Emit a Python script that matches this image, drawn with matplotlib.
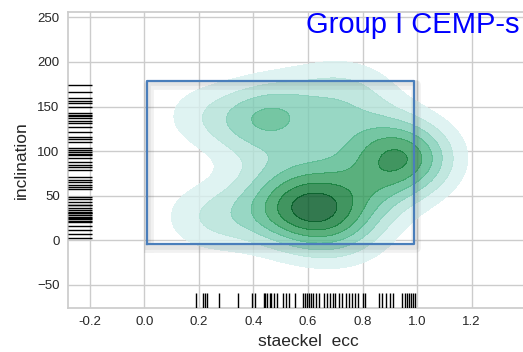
import numpy as np
import matplotlib
matplotlib.use("Agg")
import matplotlib.pyplot as plt
import matplotlib.patheffects as pe
from matplotlib import ticker, colors as mcolors

# Orbital eccentricity and inclination of the Group I CEMP-s stars
ecc = [0.19, 0.215, 0.222, 0.23, 0.275, 0.345, 0.393, 0.405,
       0.437, 0.443, 0.45, 0.46, 0.465, 0.475, 0.485,
       0.51, 0.52, 0.53, 0.553,
       0.582, 0.59, 0.598, 0.605, 0.612, 0.62, 0.63, 0.64,
       0.657, 0.668, 0.68, 0.69, 0.70, 0.712, 0.725, 0.738, 0.75, 0.76,
       0.772, 0.785, 0.80, 0.81,
       0.86, 0.872, 0.885, 0.90, 0.913,
       0.945, 0.955, 0.962, 0.97, 0.978, 0.985, 0.993]
incl = [139, 24, 30, 143, 21, 127, 36, 131,
        88, 141, 28, 134, 137, 149, 46,
        22, 154, 71, 32,
        39, 26, 65, 16, 43, 31, 62, 110.5,
        12, 174.5, 40, 116, 7.5, 159, 58, 34, 3, 166.6,
        25, 103, 49, 156.5,
        113, 68, 79, 60, 121,
        101, 92, 97, 82, 99, 95.5, 84]

# Selection box in (ecc, inclination)
box_ecc = [0.01, 0.99]
box_incl = [-4, 179]

x_ticks = [-0.2, 0.0, 0.2, 0.4, 0.6, 0.8, 1.0, 1.2]
y_ticks = [-50, 0, 50, 100, 150, 200, 250]

plt.rcParams["font.family"] = ["Liberation Sans", "DejaVu Sans"]
plt.rcParams["text.color"] = ".15"

x = np.asarray(ecc, float)
y = np.asarray(incl, float)
n = len(x)

# Gaussian KDE, Scott's factor per dimension
fac = 1.08 * n ** (-1.0 / 6.0)
bwx, bwy = fac * np.std(x, ddof=1), fac * np.std(y, ddof=1)
cut = 3
gx = np.linspace(x.min() - cut * bwx, x.max() + cut * bwx, 120)
gy = np.linspace(y.min() - cut * bwy, y.max() + cut * bwy, 120)
xx, yy = np.meshgrid(gx, gy)
z = np.zeros_like(xx)
for xi, yi in zip(x, y):
    z += np.exp(-0.5 * (((xx - xi) / bwx) ** 2 + ((yy - yi) / bwy) ** 2))
z /= n * 2 * np.pi * bwx * bwy

lev = ticker.MaxNLocator(11, min_n_ticks=1).tick_values(z.min(), z.max())
under = np.nonzero(lev < z.min())[0]
i0 = under[-1] if len(under) else 0
over = np.nonzero(lev > z.max())[0]
i1 = over[0] + 1 if len(over) else len(lev)
lev = lev[i0:i1]
mids = 0.5 * (lev[:-1] + lev[1:])
cmap = plt.get_cmap("BuGn")
norm = mcolors.Normalize(lev[0], lev[-1])
band_colors = [cmap(norm(m)) for m in mids]

fig = plt.figure(figsize=(5.23, 3.52), dpi=100)
ax = fig.add_axes([68 / 523, 44 / 352, 480 / 523, 296 / 352])
ax.set_facecolor("white")
ax.grid(True, color=".8", lw=1)
ax.set_axisbelow(True)
for s in ax.spines.values():
    s.set_color(".8")
    s.set_linewidth(1.25)

# density contours, lowest band left empty
ax.contourf(xx, yy, z, levels=lev[1:], colors=band_colors[1:], alpha=0.8, zorder=2)

# rugs
ax.vlines(x, 0, 0.05, transform=ax.get_xaxis_transform(), color="k", lw=1.0, zorder=3)
ax.hlines(y, 0, 0.05, transform=ax.get_yaxis_transform(), color="k", lw=1.0, zorder=3)

bx = [box_ecc[0], box_ecc[1], box_ecc[1], box_ecc[0], box_ecc[0]]
by = [box_incl[0], box_incl[0], box_incl[1], box_incl[1], box_incl[0]]
ax.plot(bx, by, color="#4a7ebb", lw=1.6, zorder=4,
        path_effects=[pe.SimpleLineShadow(offset=(1.5, -3), shadow_color="0.3", alpha=0.08, linewidth=7),
                      pe.SimpleLineShadow(offset=(1, -2), shadow_color="0.3", alpha=0.08, linewidth=4),
                      pe.Normal()])

ax.set_xlim(-0.28, 1.48)
ax.set_ylim(-76, 256)
ax.set_xticks(x_ticks)
ax.set_yticks(y_ticks)
ax.xaxis.set_major_formatter(ticker.FormatStrFormatter("%.1f"))
ax.tick_params(length=0, labelsize=9.5, labelcolor=".15", pad=6)
ax.set_xlabel("staeckel  ecc", fontsize=12.5, color=".15", labelpad=4)
ax.set_ylabel("inclination", fontsize=12.5, color=".15", labelpad=6)

fig.text(306 / 523, 1 - 33 / 352, "Group I CEMP-s", color="blue", fontsize=21, va="baseline")

fig.savefig("out.png", dpi=100)
